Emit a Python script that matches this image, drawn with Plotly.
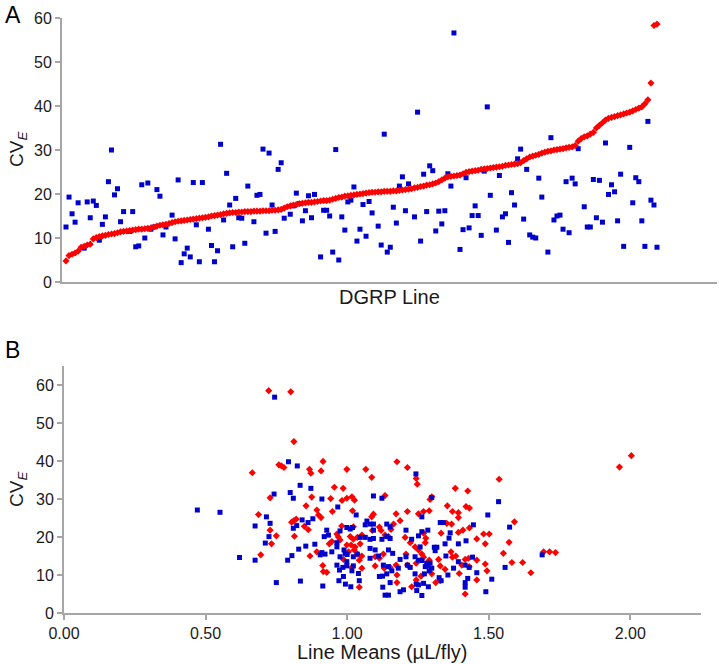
import plotly.graph_objects as go

# ---------------- Panel A data ----------------
# CV_E (red series), sorted by line rank
red_cv = [4.8, 6.0, 6.3, 6.6, 7.0, 7.9, 8.1, 8.4, 8.6, 9.8,
          10.1, 10.3, 10.5, 10.6, 10.8, 10.9, 11.0, 11.2, 11.4, 11.5,
          11.6, 11.7, 11.8, 11.9, 12.0, 12.0, 12.1, 12.2, 12.3, 12.5,
          12.7, 12.9, 13.0, 13.1, 13.3, 13.5, 13.7, 13.8, 13.9, 14.0,
          14.1, 14.2, 14.3, 14.4, 14.5, 14.6, 14.7, 14.8, 15.0, 15.1,
          15.2, 15.3, 15.5, 15.6, 15.7, 15.8, 15.8, 15.9, 15.9, 16.0,
          16.0, 16.0, 16.1, 16.1, 16.1, 16.2, 16.2, 16.2, 16.3, 16.3,
          16.4, 16.5, 16.8, 17.1, 17.3, 17.5, 17.6, 17.8, 17.9, 18.0,
          18.1, 18.1, 18.2, 18.3, 18.4, 18.5, 18.5, 18.6, 18.8, 19.0,
          19.2, 19.3, 19.5, 19.6, 19.7, 19.8, 19.9, 20.0, 20.1, 20.2,
          20.3, 20.4, 20.4, 20.5, 20.5, 20.6, 20.6, 20.6, 20.7, 20.7,
          20.8, 20.9, 21.0, 21.1, 21.2, 21.4, 21.5, 21.7, 21.8, 22.0,
          22.1, 22.3, 22.5, 22.8, 23.2, 23.6, 23.9, 24.0, 24.1, 24.2,
          24.3, 24.6, 24.9, 25.1, 25.2, 25.3, 25.4, 25.6, 25.7, 25.8,
          25.9, 26.0, 26.1, 26.2, 26.3, 26.5, 26.6, 26.7, 26.8, 26.9,
          27.1, 27.6, 28.0, 28.4, 28.6, 28.8, 29.0, 29.3, 29.5, 29.7,
          29.8, 30.0, 30.1, 30.2, 30.3, 30.5, 30.6, 30.7, 31.0, 32.0,
          32.6, 33.0, 33.2, 33.6, 34.0, 35.0, 35.6, 36.2, 36.8, 37.2,
          37.4, 37.6, 37.8, 38.0, 38.2, 38.4, 38.6, 38.9, 39.2, 39.5,
          39.8, 40.5, 41.4, 45.2, 58.3, 58.6]

# CV_E (blue series) for the same line ranks
blue_rank = [0, 1, 2, 3, 4, 6, 7, 8, 9, 10, 11, 12, 13, 14, 15, 16, 17, 18, 19, 21,
             22, 23, 24, 25, 26, 27, 28, 29, 30, 31, 32, 33, 35, 36, 37, 38, 39, 40, 41, 42,
             43, 44, 45, 47, 48, 49, 50, 51, 52, 53, 54, 55, 56, 57, 58, 59, 60, 62, 63, 64,
             65, 66, 67, 68, 69, 70, 71, 72, 74, 75, 76, 77, 78, 79, 80, 81, 82, 84, 85, 86,
             87, 88, 89, 90, 91, 92, 93, 94, 95, 96, 97,
             98, 99, 100, 101, 103, 104, 105, 106, 107, 108, 109, 110, 111, 112, 113, 115, 116, 117, 118, 119,
             120, 121, 122, 123, 124, 125, 126, 127, 128, 130, 131, 132, 133, 134, 135, 136, 137, 138, 139, 140,
             142, 143, 144, 145, 146, 147, 148, 149, 150, 151, 152, 153, 154, 155, 156, 157, 159, 160, 161, 162,
             163, 164, 165, 166, 167, 168, 169, 171, 172, 173, 174, 175, 176, 177, 178, 179, 180, 181, 182, 183,
             184, 186, 187, 188, 189, 190, 191, 192, 193, 194, 195]
blue_cv = [12.5, 19.3, 15.5, 13.6, 18.0, 7.7, 18.2, 14.6, 18.4, 17.4, 9.5, 13.1, 14.8, 22.8, 30.0, 19.8, 21.2, 13.7, 16.0, 11.5,
           16.0, 8.0, 8.2, 22.1, 10.0, 22.5, 12.0, 12.5, 21.0, 19.5, 10.7, 12.5, 15.2, 9.8, 23.2, 4.4, 6.4, 7.7, 5.7, 22.6,
           13.0, 4.6, 22.6, 12.0, 8.3, 4.6, 7.1, 31.3, 14.1, 24.7, 17.5, 8.0, 19.0, 14.6, 14.5, 8.8, 21.8, 13.7, 19.7, 19.9,
           30.2, 11.1, 29.3, 17.5, 11.5, 25.6, 27.1, 14.5, 15.4, 17.3, 20.2, 17.8, 13.9, 16.2, 19.6, 14.6, 19.9, 5.7, 16.3, 16.3,
           15.0, 6.8, 30.1, 5.0, 14.8, 11.8, 18.2, 18.6, 21.6, 9.3, 12.0,
           17.6, 10.4, 18.3, 15.7, 12.7, 8.4, 33.6, 6.8, 7.9, 17.0, 13.4, 21.8, 23.9, 16.2, 22.3, 14.8, 38.6, 9.3, 24.5, 16.0,
           26.4, 25.3, 11.6, 16.1, 13.2, 16.2, 24.6, 21.8, 56.6, 7.4, 11.9, 23.7, 12.3, 15.1, 17.3, 15.1, 10.6, 25.2, 39.8, 19.7,
           11.8, 24.2, 14.8, 15.5, 9.0, 20.3, 17.5, 28.0, 30.2, 14.3, 25.6, 10.7, 10.2, 10.0, 23.6, 19.3, 6.8, 32.8, 14.1, 15.0,
           15.2, 12.0, 22.8, 11.2, 23.6, 22.3, 30.3, 17.1, 12.5, 12.5, 23.3, 14.6, 23.1, 13.6, 31.6, 19.9, 22.1, 20.5, 13.9, 24.5,
           8.1, 30.6, 18.0, 23.7, 22.8, 13.9, 8.1, 36.5, 18.6, 17.5, 7.9]

# ---------------- Panel B data ----------------
red_mean = [0.723, 0.801, 0.812, 0.665, 0.759, 0.768, 0.777, 0.915, 0.867, 0.872,
            0.908, 0.999, 0.955, 0.986, 0.728, 0.875, 0.942, 0.982, 0.855, 0.893,
            0.899, 0.908, 0.948, 0.687, 0.804, 0.820, 0.849, 0.863, 0.728, 0.750,
            0.814, 0.733, 0.695, 0.869, 0.893, 0.946, 0.964, 0.969, 0.914, 0.928,
            0.916, 0.999, 1.066, 1.087, 1.176, 1.213, 1.244, 1.248, 0.999, 1.017,
            1.026, 1.019, 1.134, 1.087, 1.093, 1.173, 1.213, 1.252, 1.187, 1.164,
            1.089, 1.114, 1.120, 1.134, 1.146, 1.155, 0.975, 1.011, 1.022, 1.036,
            1.052, 1.014, 1.028, 1.046, 0.937, 1.005, 1.025, 1.036, 1.043, 1.052,
            1.099, 1.114, 1.128, 1.205, 1.223, 1.208, 1.240, 1.252, 1.213, 1.244,
            1.017, 1.052, 1.099, 1.131, 1.152, 1.173, 1.176, 1.176, 1.228, 1.043,
            1.244, 1.537, 1.382, 1.426, 1.293, 1.299, 1.354, 1.372, 1.393, 1.393,
            1.420, 1.432, 1.270, 1.290, 1.352, 1.432, 1.409, 1.393, 1.332, 1.458,
            1.482, 1.502, 1.488, 1.591, 1.572, 1.278, 1.276, 1.270, 1.264, 1.270,
            1.290, 1.323, 1.329, 1.367, 1.372, 1.384, 1.346, 1.299, 1.261, 1.417,
            1.429, 1.458, 1.405, 1.431, 1.488, 1.494, 1.552, 1.582, 1.396, 1.458,
            1.313, 1.329, 1.417, 1.620, 1.649, 1.694, 1.715, 1.736, 1.962, 2.004,
            0.981, 1.022, 0.987, 1.369, 0.812]
red_cvB = [58.5, 58.2, 45.1, 36.9, 39.0, 38.7, 38.3, 39.9, 37.8, 36.8,
           37.4, 37.8, 33.1, 32.8, 30.3, 30.5, 30.1, 29.6, 28.2, 27.1,
           25.8, 25.1, 26.7, 25.9, 23.9, 24.7, 22.8, 21.9, 21.8, 20.3,
           20.2, 18.2, 15.3, 15.0, 16.1, 18.8, 20.8, 20.0, 12.5, 10.7,
           10.9, 17.9, 37.8, 35.7, 39.8, 38.3, 35.4, 33.9, 30.2, 30.6,
           29.7, 26.9, 30.9, 25.3, 26.0, 26.1, 26.7, 26.1, 24.3, 23.4,
           21.7, 22.6, 21.7, 20.5, 20.1, 22.0, 19.2, 20.1, 19.4, 19.9,
           20.5, 17.9, 17.4, 18.2, 18.2, 16.1, 16.6, 15.5, 13.9, 15.0,
           14.8, 14.4, 15.5, 19.9, 18.5, 15.5, 17.4, 16.6, 12.6, 13.1,
           12.0, 11.8, 12.4, 11.8, 12.0, 12.6, 10.0, 8.0, 6.9, 6.8,
           8.7, 35.2, 32.8, 32.1, 29.9, 30.6, 28.2, 26.7, 26.4, 25.1,
           28.0, 27.6, 26.7, 26.9, 23.6, 22.4, 21.8, 21.2, 21.0, 19.5,
           20.8, 20.8, 18.2, 24.0, 18.6, 19.7, 18.5, 21.0, 15.5, 14.7,
           13.9, 14.1, 12.4, 16.1, 14.7, 15.0, 11.5, 10.3, 9.7, 14.1,
           14.4, 13.9, 12.6, 12.2, 12.9, 11.1, 15.7, 13.3, 10.4, 8.7,
           8.0, 8.5, 5.0, 13.3, 10.6, 16.1, 16.1, 15.9, 38.4, 41.4,
           22.9, 22.7, 14.1, 23.4, 24.3]

blue_mean = [0.744, 0.471, 0.551, 0.793, 0.824, 0.834, 0.872, 0.742, 0.799, 0.810,
             0.911, 0.967, 0.715, 0.728, 0.675, 0.724, 0.711, 0.810, 0.822, 0.841,
             0.862, 0.879, 0.829, 0.854, 0.886, 0.805, 0.790, 0.620, 0.675, 0.911,
             0.919, 0.934, 0.905, 0.750, 0.835, 0.914, 0.975, 0.964, 0.975, 0.993,
             0.999, 0.964, 0.987, 0.971, 0.994, 1.093, 1.123, 1.032, 1.070, 1.064,
             1.081, 1.093, 1.093, 0.999, 1.011, 1.019, 1.140, 1.152, 1.208, 0.928,
             1.046, 1.064, 1.081, 1.093, 1.123, 1.140, 1.152, 1.228, 1.252, 0.922,
             0.946, 0.964, 0.989, 1.000, 1.022, 1.036, 0.985, 0.973, 0.999, 1.022,
             1.040, 1.017, 1.081, 1.099, 1.081, 1.111, 1.146, 1.161, 1.128, 1.146,
             1.158, 1.114, 1.125, 1.140, 1.187, 1.208, 1.181, 1.213, 1.223, 1.240,
             1.013, 1.043, 1.126, 1.134, 1.152, 1.187, 1.199, 1.146, 1.244, 1.246,
             1.240, 1.252, 1.243, 1.299, 1.264, 1.535, 1.497, 1.446, 1.329, 1.340,
             1.364, 1.360, 1.420, 1.393, 1.346, 1.264, 1.285, 1.308, 1.317, 1.311,
             1.258, 1.264, 1.349, 1.281, 1.293, 1.285, 1.276, 1.393, 1.417, 1.443,
             1.431, 1.376, 1.558, 1.273, 1.290, 1.299, 1.458, 1.356, 1.325, 1.332,
             1.426, 1.417, 1.417, 1.511, 1.490, 1.270, 1.287, 1.252, 1.264, 1.689,
             1.574]
blue_cvB = [56.8, 27.1, 26.5, 39.8, 38.7, 33.6, 32.8, 31.3, 31.7, 30.2,
            30.0, 27.9, 25.3, 23.6, 22.9, 20.1, 18.4, 22.3, 23.0, 24.5,
            23.8, 24.8, 16.8, 17.6, 18.1, 15.1, 13.9, 14.6, 13.9, 15.9,
            20.1, 20.5, 15.3, 8.0, 8.4, 7.1, 21.6, 18.5, 14.8, 15.7,
            13.5, 12.6, 9.6, 8.5, 7.6, 30.8, 30.2, 25.8, 24.2, 23.2,
            23.4, 23.4, 21.8, 22.5, 22.1, 22.5, 23.4, 22.7, 21.8, 21.8,
            19.9, 19.9, 19.4, 19.6, 19.4, 20.1, 19.6, 19.4, 20.3, 15.5,
            16.1, 17.4, 16.6, 15.4, 14.8, 15.5, 12.0, 11.3, 12.4, 12.4,
            10.4, 11.1, 17.0, 16.6, 14.4, 15.0, 16.6, 15.7, 12.6, 12.2,
            11.1, 9.6, 9.7, 10.3, 14.1, 14.8, 11.8, 12.6, 12.0, 10.3,
            6.9, 8.5, 6.8, 4.7, 8.0, 5.6, 6.1, 4.7, 7.6, 5.9,
            14.8, 13.9, 36.6, 30.4, 25.3, 29.3, 25.8, 23.2, 23.8, 23.8,
            21.1, 19.7, 19.0, 18.2, 18.2, 21.4, 21.8, 17.3, 17.3, 16.4,
            17.4, 13.8, 15.0, 13.1, 13.1, 12.4, 12.2, 13.5, 12.6, 14.7,
            12.0, 11.8, 12.0, 10.3, 11.1, 11.8, 10.6, 10.0, 9.3, 8.5,
            9.1, 8.0, 6.8, 8.9, 5.6, 7.8, 6.9, 7.4, 4.6, 15.3,
            22.6]

y_ticks = [0, 10, 20, 30, 40, 50, 60]
x_ticksB = [0.0, 0.5, 1.0, 1.5, 2.0]
x_ticktextB = ["0.00", "0.50", "1.00", "1.50", "2.00"]

RED = "#FF0000"
BLUE = "#0000CC"
AXIS = "#A6A6A6"
FONT = "Liberation Sans, Arial, sans-serif"
W, H = 719, 664

fig = go.Figure()

# Panel A
fig.add_trace(go.Scatter(x=blue_rank, y=blue_cv, mode="markers",
                         marker=dict(symbol="square", size=5, color=BLUE),
                         xaxis="x", yaxis="y", showlegend=False))
fig.add_trace(go.Scatter(x=list(range(len(red_cv))), y=red_cv, mode="markers",
                         marker=dict(symbol="diamond", size=5.5, color=RED),
                         xaxis="x", yaxis="y", showlegend=False))
# Panel B
fig.add_trace(go.Scatter(x=red_mean, y=red_cvB, mode="markers",
                         marker=dict(symbol="diamond", size=5.5, color=RED),
                         xaxis="x2", yaxis="y2", showlegend=False))
fig.add_trace(go.Scatter(x=blue_mean, y=blue_cvB, mode="markers",
                         marker=dict(symbol="square", size=5, color=BLUE),
                         xaxis="x2", yaxis="y2", showlegend=False))

def px_x(p):
    return p / W

def px_y(p):
    return 1 - p / H

tickfont = dict(family=FONT, size=16, color="#1a1a1a")
common = dict(showline=True, linecolor=AXIS, linewidth=2, showgrid=False,
              zeroline=False, automargin=False)

fig.update_layout(
    width=W, height=H,
    margin=dict(l=0, r=0, t=0, b=0, autoexpand=False),
    paper_bgcolor="white", plot_bgcolor="white",
    font=dict(family=FONT, color="#1a1a1a"),
    xaxis=dict(domain=[px_x(62), px_x(717)], range=[-1.32, 214.8],
               showticklabels=False, ticks="", anchor="y", **common),
    yaxis=dict(domain=[px_y(282), px_y(18)], range=[0, 60], tickvals=y_ticks,
               ticks="outside", ticklen=5, tickwidth=1.5, tickcolor=AXIS,
               tickfont=tickfont, anchor="x", **common),
    xaxis2=dict(domain=[px_x(64), px_x(701)], range=[0, 2.25],
                tickvals=x_ticksB, ticktext=x_ticktextB,
                ticks="outside", ticklen=5, tickwidth=1.5, tickcolor=AXIS,
                tickfont=tickfont, anchor="y2", **common),
    yaxis2=dict(domain=[px_y(613), px_y(366)], range=[0, 65], tickvals=y_ticks,
                ticks="outside", ticklen=5, tickwidth=1.5, tickcolor=AXIS,
                tickfont=tickfont, anchor="x2", **common),
)

ann = []
ann.append(dict(text="A", x=px_x(3), y=px_y(15), xref="paper", yref="paper",
                xanchor="left", yanchor="middle", showarrow=False,
                font=dict(family=FONT, size=23, color="#000")))
ann.append(dict(text="B", x=px_x(3), y=px_y(350), xref="paper", yref="paper",
                xanchor="left", yanchor="middle", showarrow=False,
                font=dict(family=FONT, size=23, color="#000")))
ann.append(dict(text="CV<sub><i>E</i></sub>", x=px_x(18), y=px_y(150), xref="paper", yref="paper",
                xanchor="center", yanchor="middle", showarrow=False, textangle=-90,
                font=dict(family=FONT, size=19, color="#1a1a1a")))
ann.append(dict(text="CV<sub><i>E</i></sub>", x=px_x(18), y=px_y(490), xref="paper", yref="paper",
                xanchor="center", yanchor="middle", showarrow=False, textangle=-90,
                font=dict(family=FONT, size=19, color="#1a1a1a")))
ann.append(dict(text="DGRP Line", x=px_x(390), y=px_y(297), xref="paper", yref="paper",
                xanchor="center", yanchor="middle", showarrow=False,
                font=dict(family=FONT, size=20, color="#1a1a1a")))
ann.append(dict(text="Line Means (µL/fly)", x=px_x(382), y=px_y(652), xref="paper", yref="paper",
                xanchor="center", yanchor="middle", showarrow=False,
                font=dict(family=FONT, size=20, color="#1a1a1a")))
fig.update_layout(annotations=ann)

fig.write_html("out.html", config={"displayModeBar": False},
               post_script="document.body.style.margin='0';document.body.style.overflow='hidden';")
